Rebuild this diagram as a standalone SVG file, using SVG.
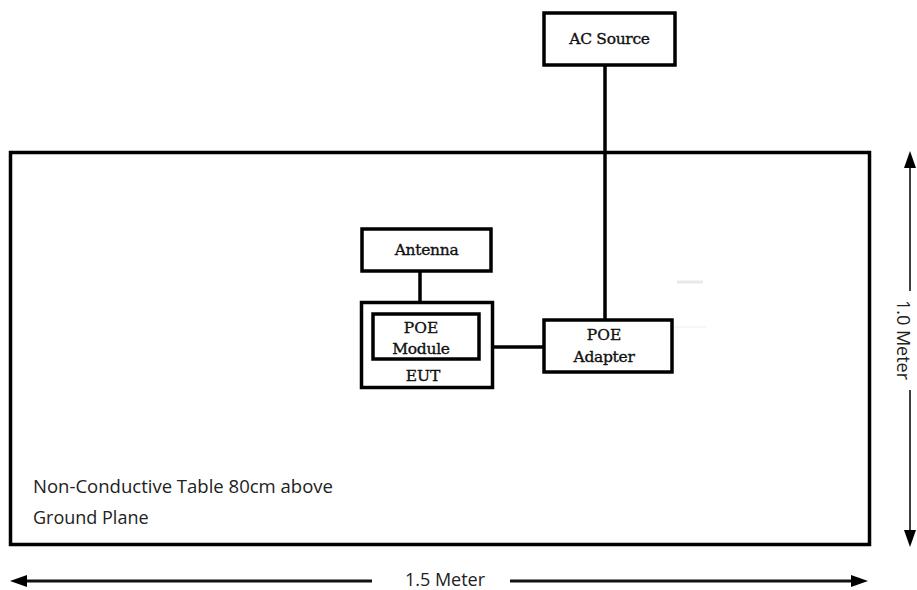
<svg xmlns="http://www.w3.org/2000/svg" width="917" height="590" viewBox="0 0 917 590">
<style>
.box{fill:#fff;stroke:#000;stroke-width:3.5}
.wire{stroke:#000;stroke-width:3.5;fill:none}
.lbl{font-family:"DejaVu Serif",serif;font-size:15.5px;fill:#111;stroke:#111;stroke-width:0.35;text-anchor:middle}
.note{font-family:"Open Sans",sans-serif;font-size:18px;fill:#222}
.dim{stroke:#111;fill:none}
.head{fill:#000}
</style>
<rect width="917" height="590" fill="#fff"/>
<g id="table">
<rect x="10.5" y="152.5" width="859" height="392" class="box" stroke-width="4.5"/>
<text class="note" x="33" y="493" textLength="300" lengthAdjust="spacingAndGlyphs">Non-Conductive Table 80cm above</text>
<text class="note" x="33" y="524">Ground Plane</text>
</g>
<g id="connectors">
<line class="wire" x1="605" y1="66" x2="605" y2="320"/>
<line class="wire" x1="420" y1="271" x2="420" y2="302"/>
<line class="wire" x1="494" y1="347" x2="544" y2="347"/>
<line x1="677" y1="282" x2="703" y2="282" stroke="#e8e8e8" stroke-width="3"/>
<line x1="674" y1="327" x2="706" y2="327" stroke="#eeeeee" stroke-width="1"/>
</g>
<g id="ac-source">
<rect x="544" y="13" width="131" height="52" class="box"/>
<text class="lbl" x="609.5" y="44" letter-spacing="-0.3">AC Source</text>
</g>
<g id="antenna">
<rect x="362" y="229" width="129" height="42" class="box"/>
<text class="lbl" x="426.5" y="255" letter-spacing="-0.3">Antenna</text>
</g>
<g id="eut">
<rect x="361.5" y="302.5" width="131" height="85" class="box"/>
<text class="lbl" x="423" y="381">EUT</text>
</g>
<g id="poe-module">
<rect x="373" y="314" width="106" height="45" class="box" stroke-width="4"/>
<text class="lbl" x="421" y="333">POE</text>
<text class="lbl" x="421" y="354" font-size="16.5px" letter-spacing="-0.3">Module</text>
</g>
<g id="poe-adapter">
<rect x="544" y="320" width="128" height="52" class="box"/>
<text class="lbl" x="604" y="340">POE</text>
<text class="lbl" x="604" y="362" letter-spacing="-0.3">Adapter</text>
</g>
<g id="dimensions">
<line class="dim" stroke-width="3" x1="22" y1="581" x2="372" y2="581"/>
<line class="dim" stroke-width="3" x1="510" y1="581" x2="856" y2="581"/>
<polygon class="head" points="10,581 27,575 27,587"/>
<polygon class="head" points="868,581 851,575 851,587"/>
<text class="note" x="445" y="586" text-anchor="middle">1.5 Meter</text>
<line class="dim" stroke-width="1.6" x1="910" y1="162" x2="910" y2="291"/>
<line class="dim" stroke-width="1.6" x1="910" y1="390" x2="910" y2="535"/>
<polygon class="head" points="910,151 904,168 916,168"/>
<polygon class="head" points="910,547 904,530 916,530"/>
<text class="note" font-size="15px" transform="translate(904 340) rotate(90)" text-anchor="middle" dominant-baseline="central">1.0 Meter</text>
</g>
</svg>
